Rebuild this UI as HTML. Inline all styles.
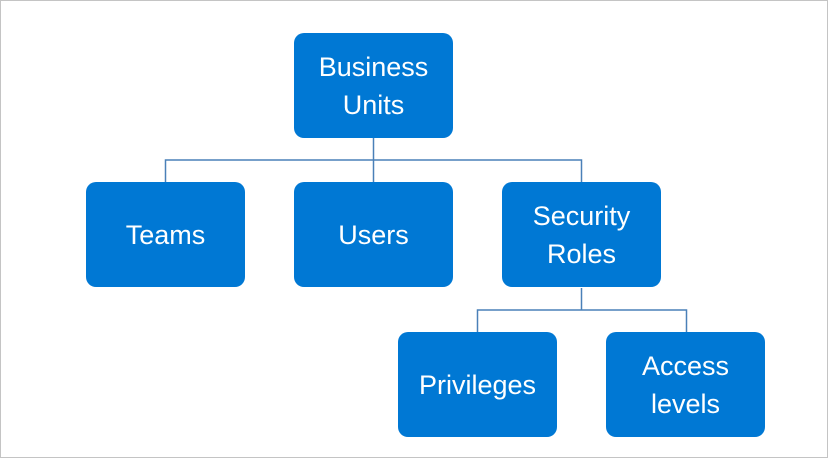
<!DOCTYPE html>
<html><head><meta charset="utf-8"><style>
html,body{margin:0;padding:0;}
body{width:828px;height:458px;position:relative;background:#fff;overflow:hidden;font-family:"Segoe UI","Liberation Sans",sans-serif;}
.frame{position:absolute;left:0;top:0;width:826px;height:456px;border:1px solid #c4c4c4;}
.b{position:absolute;width:159px;height:105px;background:#0078d4;border-radius:10px;color:#fff;font-size:27px;line-height:38px;display:flex;align-items:center;justify-content:center;text-align:center;}
svg{position:absolute;left:0;top:0;}
</style></head><body>
<div class="frame"></div>
<svg width="828" height="458"><g stroke="#4a80b8" stroke-width="1.5" fill="none">
<path d="M373.5 138V160M165.5 182V160H581.5V182M373.5 160V182"/>
<path d="M581.5 288V310M477.5 332V310H686.5V332"/>
</g></svg>
<div class="b" style="left:294px;top:33px">Business<br>Units</div>
<div class="b" style="left:86px;top:182px">Teams</div>
<div class="b" style="left:294px;top:182px">Users</div>
<div class="b" style="left:502px;top:182px">Security<br>Roles</div>
<div class="b" style="left:398px;top:332px">Privileges</div>
<div class="b" style="left:606px;top:332px">Access<br>levels</div>
</body></html>
